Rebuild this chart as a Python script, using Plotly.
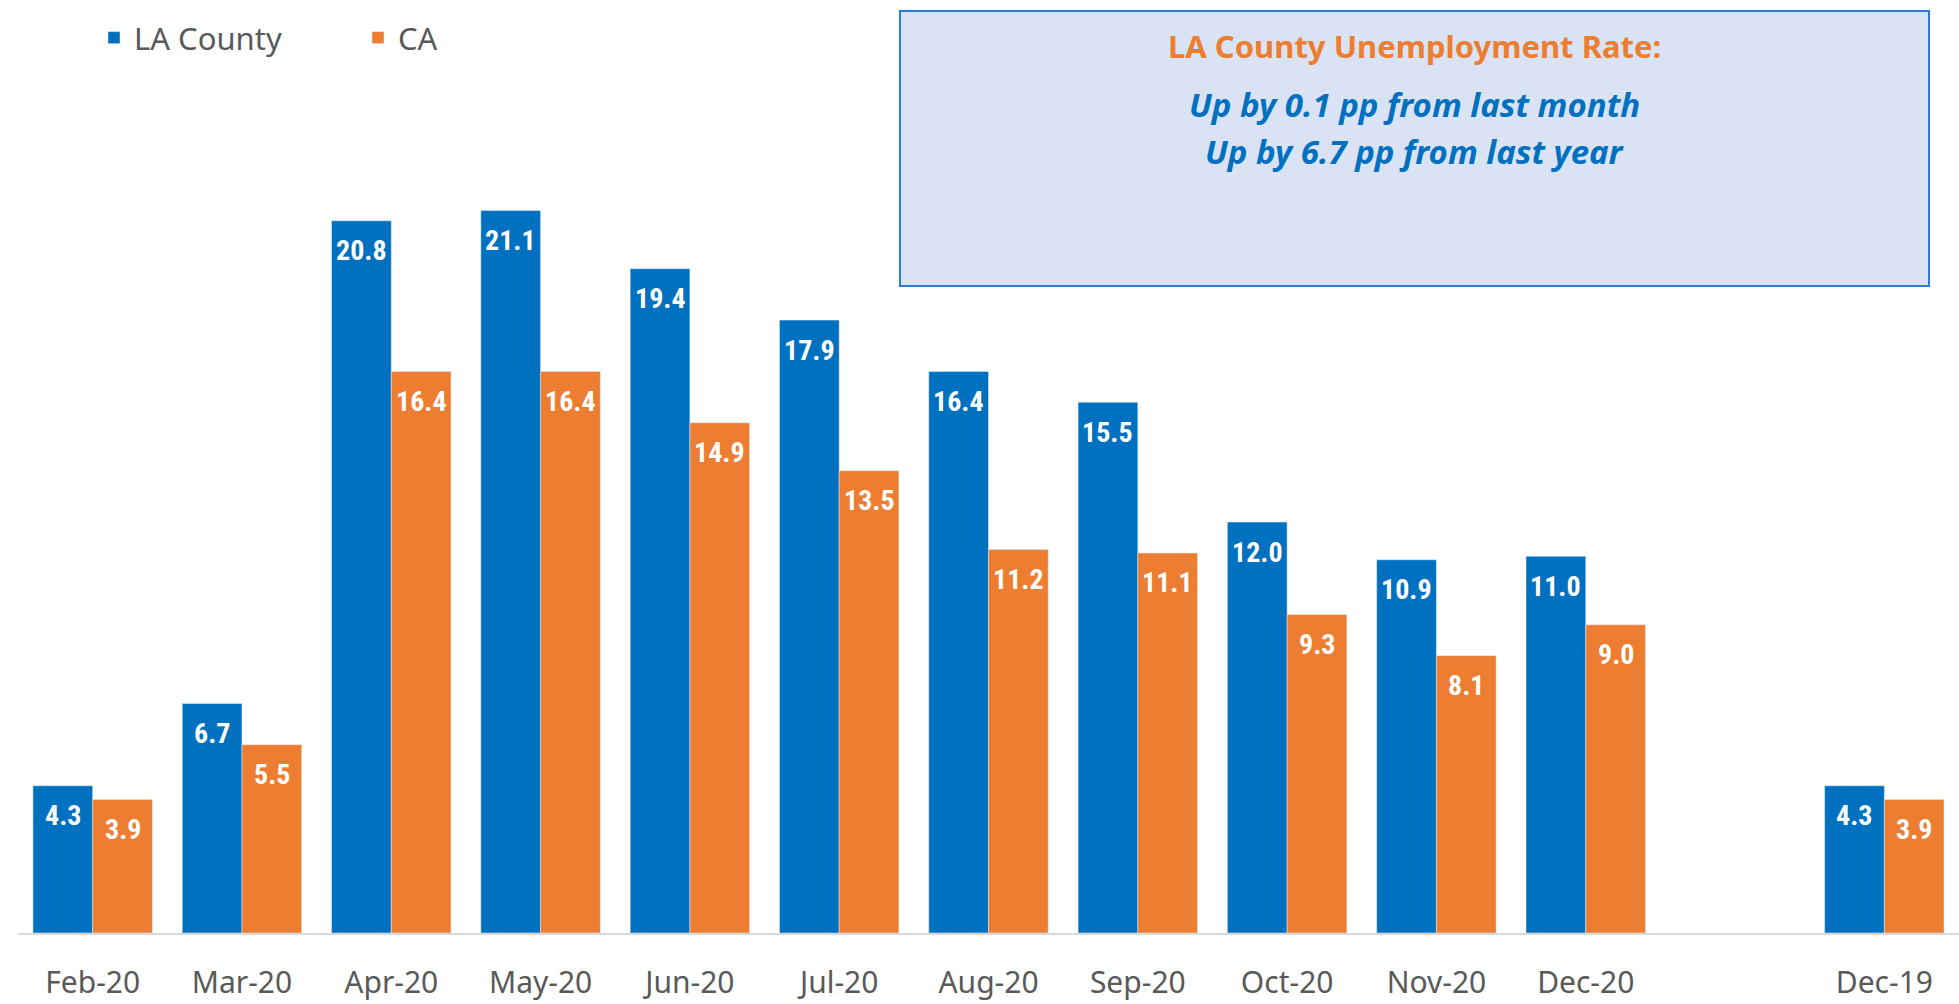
import plotly.graph_objects as go

# ---- data ----
categories = ["Feb-20", "Mar-20", "Apr-20", "May-20", "Jun-20", "Jul-20", "Aug-20",
              "Sep-20", "Oct-20", "Nov-20", "Dec-20", " ", "Dec-19"]
la_county = [4.3, 6.7, 20.8, 21.1, 19.4, 17.9, 16.4, 15.5, 12.0, 10.9, 11.0, None, 4.3]
ca = [3.9, 5.5, 16.4, 16.4, 14.9, 13.5, 11.2, 11.1, 9.3, 8.1, 9.0, None, 3.9]
series_names = ["LA County", "CA"]
box_title = "LA County Unemployment Rate:"
box_lines = ["Up by 0.1 pp from last month", "Up by 6.7 pp from last year"]

BLUE = "#0070C0"
ORANGE = "#ED7D31"
GRAY = "#595959"

W, H = 1959, 1004
ML, MR, MT, MB = 18, 0, 77, 71
PW, PH = W - ML - MR, H - MT - MB


def px_x(x):
    return (x - ML) / PW


def px_y(y):
    return (H - MB - y) / PH


fig = go.Figure()
fig.add_trace(go.Bar(x=categories, y=la_county, name=series_names[0], marker_color=BLUE))
fig.add_trace(go.Bar(x=categories, y=ca, name=series_names[1], marker_color=ORANGE))

label_font = dict(family="Liberation Sans Narrow, Arial Narrow, Roboto Condensed, Roboto, sans-serif",
                  size=28, color="white")
annotations = []
for vals, off in ((la_county, -0.2), (ca, 0.2)):
    for i, v in enumerate(vals):
        if v is None:
            continue
        annotations.append(dict(x=i + off, y=v, xref="x", yref="y", text=f"<b>{v:.1f}</b>",
                                showarrow=False, yanchor="middle", yshift=-30, font=label_font))

# text box content
cx = px_x((900 + 1929) / 2)
annotations.append(dict(x=cx, y=px_y(46), xref="paper", yref="paper", text=f"<b>{box_title}</b>",
                        showarrow=False, xanchor="center", yanchor="middle",
                        font=dict(family="Noto Sans", size=31, color=ORANGE)))
for line, ypx in zip(box_lines, (104, 151)):
    annotations.append(dict(x=cx, y=px_y(ypx), xref="paper", yref="paper", text=f"<b><i>{line}</i></b>",
                            showarrow=False, xanchor="center", yanchor="middle",
                            font=dict(family="Noto Sans", size=33, color=BLUE)))

fig.update_layout(
    width=W, height=H,
    margin=dict(l=ML, r=MR, t=MT, b=MB, pad=0),
    paper_bgcolor="white", plot_bgcolor="white",
    barmode="group", bargap=0.2, bargroupgap=0,
    font=dict(family="Noto Sans", color=GRAY, size=31),
    showlegend=True,
    legend=dict(orientation="h", x=px_x(94), xanchor="left", y=px_y(38), yanchor="middle",
                font=dict(family="Noto Sans", size=31, color=GRAY),
                entrywidth=219, entrywidthmode="pixels", bgcolor="rgba(0,0,0,0)"),
    xaxis=dict(type="category", range=[-0.5, 12.5], showgrid=False, showline=True,
               linecolor="#D9D9D9", linewidth=2, ticks="", ticklabelstandoff=22,
               tickfont=dict(family="Noto Sans", size=30, color=GRAY), fixedrange=True),
    yaxis=dict(range=[0, 25], visible=False, showgrid=False, zeroline=False, fixedrange=True),
    shapes=[dict(type="rect", xref="paper", yref="paper",
                 x0=px_x(900), x1=px_x(1929), y0=px_y(286), y1=px_y(11),
                 fillcolor="#DAE3F3", line=dict(color="#2B7CD3", width=2), layer="below")],
    annotations=annotations,
)

fig.write_html("out.html", post_script="document.body.style.margin='0';",
               config={"displayModeBar": False})
